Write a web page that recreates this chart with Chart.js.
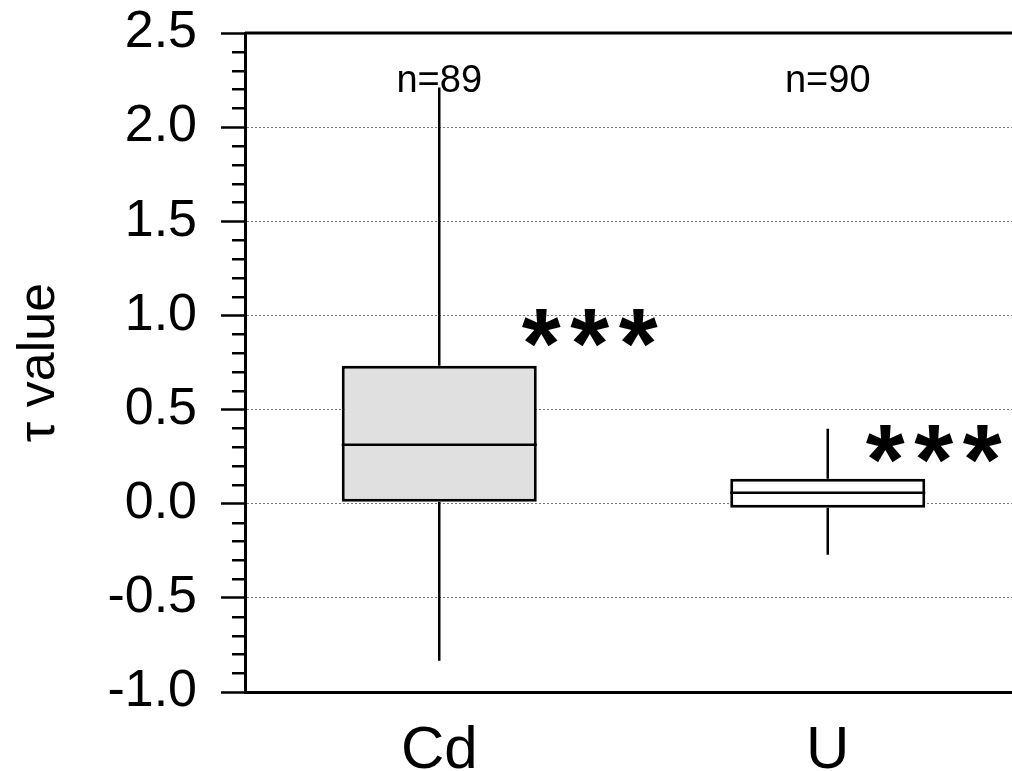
<!DOCTYPE html>
<html>
<head>
<meta charset="utf-8">
<script src="https://cdn.jsdelivr.net/npm/chart.js@4.4.1/dist/chart.umd.min.js"></script>
<style>
  html, body { margin: 0; padding: 0; background: #fff; overflow: hidden; }
  #wrap { width: 1022px; height: 771px; }
</style>
</head>
<body>
<div id="wrap"><canvas id="tauChart" width="1022" height="771"></canvas></div>
<script>
// box plot values
const categories = ['Cd', 'U'];
const whiskerLow = [-0.834, -0.271];
const quartile1 = [0.01, -0.021];
const medians = [0.313, 0.058];
const quartile3 = [0.733, 0.133];
const whiskerHigh = [2.21, 0.398];
const sampleLabels = ['n=89', 'n=90'];
const sigLabels = ['***', '***'];
const yTickMin = -1.0;
const yTickMax = 2.5;

// where the significance stars sit (category units / data units)
const sigAnchorX = [0.387, 1.273];
const sigAnchorY = [0.932, 0.319];

const FONT = '"Liberation Sans", Arial, sans-serif';

function isMajor(v) {
  return Math.abs(v * 2 - Math.round(v * 2)) < 1e-6;
}

const boxExtras = {
  id: 'boxExtras',
  afterDatasetsDraw(chart) {
    const ctx = chart.ctx;
    const y = chart.scales.y;
    const x = chart.scales.x;
    const area = chart.chartArea;
    const meta = chart.getDatasetMeta(0);

    ctx.save();
    ctx.strokeStyle = '#000';
    ctx.lineWidth = 2.5;
    meta.data.forEach((bar, i) => {
      const cx = bar.x;
      const half = bar.width / 2;
      // whiskers
      ctx.beginPath();
      ctx.moveTo(cx, y.getPixelForValue(whiskerHigh[i]));
      ctx.lineTo(cx, y.getPixelForValue(quartile3[i]));
      ctx.moveTo(cx, y.getPixelForValue(quartile1[i]));
      ctx.lineTo(cx, y.getPixelForValue(whiskerLow[i]));
      ctx.stroke();
      // median
      ctx.beginPath();
      ctx.moveTo(cx - half, y.getPixelForValue(medians[i]));
      ctx.lineTo(cx + half, y.getPixelForValue(medians[i]));
      ctx.stroke();
    });

    // sample sizes
    ctx.fillStyle = '#000';
    ctx.font = '38px ' + FONT;
    ctx.textAlign = 'center';
    ctx.textBaseline = 'middle';
    meta.data.forEach((bar, i) => {
      ctx.fillText(sampleLabels[i], bar.x, area.top + 49);
    });

    // significance stars
    ctx.font = 'bold 100px ' + FONT;
    ctx.textBaseline = 'alphabetic';
    const catW = x.getPixelForValue(1) - x.getPixelForValue(0);
    sigLabels.forEach((lab, i) => {
      const gx = x.getPixelForValue(0) + sigAnchorX[i] * catW;
      const gy = y.getPixelForValue(sigAnchorY[i]);
      const stars = lab.split('');
      stars.forEach((s, k) => {
        const m = ctx.measureText(s);
        const base = gy + (m.actualBoundingBoxAscent - m.actualBoundingBoxDescent) / 2;
        ctx.fillText(s, gx + (k - (stars.length - 1) / 2) * 48.5, base);
      });
    });

    // top frame
    ctx.lineWidth = 3;
    ctx.beginPath();
    ctx.moveTo(area.left, area.top);
    ctx.lineTo(area.right, area.top);
    ctx.stroke();

    // minor ticks on y
    ctx.lineWidth = 2.5;
    y.ticks.forEach(t => {
      if (isMajor(t.value)) return;
      const py = Math.round(y.getPixelForValue(t.value)) + 0.25;
      ctx.beginPath();
      ctx.moveTo(area.left - 13, py);
      ctx.lineTo(area.left, py);
      ctx.stroke();
    });
    ctx.restore();
  }
};

const ctx = document.getElementById('tauChart').getContext('2d');
const tauChart = new Chart(ctx, {
  type: 'bar',
  data: {
    labels: categories,
    datasets: [{
      data: categories.map((c, i) => [quartile1[i], quartile3[i]]),
      backgroundColor: ['#e0e0e0', '#ffffff'],
      borderColor: '#000',
      borderWidth: 3,
      borderSkipped: false,
      barPercentage: 0.502,
      categoryPercentage: 1.0
    }]
  },
  options: {
    responsive: false,
    animation: false,
    events: [],
    layout: { padding: 0 },
    plugins: {
      legend: { display: false },
      tooltip: { enabled: false },
      title: { display: false }
    },
    scales: {
      x: {
        offset: true,
        grid: { display: false },
        border: { display: true, color: '#000', width: 3 },
        ticks: {
          color: '#000',
          font: { family: FONT, size: 60 },
          padding: 15
        },
        afterFit(scale) { scale.height = 79; }
      },
      y: {
        min: yTickMin,
        max: yTickMax,
        ticks: {
          stepSize: 0.1,
          autoSkip: false,
          color: '#000',
          font: { family: FONT, size: 52 },
          padding: 24,
          callback: v => isMajor(v) ? v.toFixed(1) : ''
        },
        grid: {
          color: c => (isMajor(c.tick.value) && c.tick.value > yTickMin + 1e-6 && c.tick.value < yTickMax - 1e-6) ? '#777777' : 'rgba(0,0,0,0)',
          lineWidth: 1,
          tickLength: 24,
          tickWidth: 2.5,
          tickColor: c => isMajor(c.tick.value) ? '#000' : 'rgba(0,0,0,0)'
        },
        border: { display: true, color: '#000', width: 3, dash: [2, 2] },
        title: {
          display: true,
          text: 'τ value',
          color: '#000',
          font: { family: FONT, size: 52 },
          padding: { top: 8, bottom: 0 }
        },
        afterFit(scale) {
          scale.width = 245;
          scale.paddingTop = 33;
          scale.paddingBottom = 0;
        }
      }
    }
  },
  plugins: [boxExtras]
});
</script>
</body>
</html>
